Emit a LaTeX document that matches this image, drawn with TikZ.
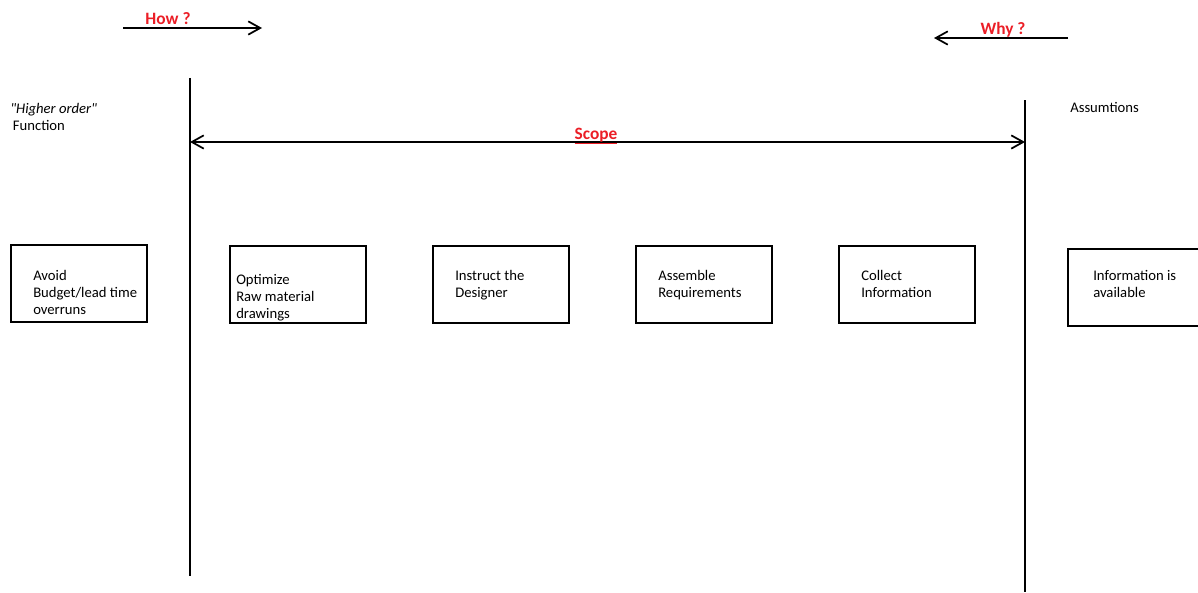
\documentclass[tikz,border=0pt]{standalone}
\usepackage{fontspec}
\setmainfont{Carlito}
\usepackage{xcolor}
\usepackage{tikz}
\usetikzlibrary{positioning,arrows.meta}
\definecolor{askred}{RGB}{235,30,38}

\begin{document}
\begin{tikzpicture}[x=0.75pt, y=-0.75pt,
		box/.style={draw, line width=1.3pt, minimum width=102pt,
					minimum height=57.75pt, inner sep=0pt, anchor=north west},
		txt/.style={align=left, inner sep=0pt, anchor=base west,
					font=\fontsize{11}{12.75}\selectfont},
		ask/.style={inner sep=0pt, anchor=base, text=askred,
					font=\fontsize{13}{15}\selectfont\bfseries},
		arrow/.style={-{Straight Barb[length=9pt,width=10pt]}, line width=1.3pt},
		bar/.style={line width=1.3pt}
	]
		\useasboundingbox (0,0) rectangle (1198,592);

		% scope boundaries
		\coordinate (lt) at (190,78);
		\coordinate (lb) at (190,576);
		\coordinate (rt) at (1025,100);
		\coordinate (rb) at (1025,592);
		\draw[bar] (lt) -- (lb);
		\draw[bar] (rt) -- (rb);

		% how / why directions
		\coordinate (hows) at (123,28);
		\coordinate (howe) at (262,28);
		\coordinate (whys) at (1068,38);
		\coordinate (whye) at (934,38);
		\draw[arrow] (hows) -- (howe);
		\draw[arrow] (whys) -- (whye);
		\node[ask] (how) at (168,25) {How ?};
		\node[ask] (why) at (1003,35) {Why ?};

		% scope span
		\coordinate (sl) at (lt |- 0,142);
		\coordinate (sr) at (rt |- 0,142);
		\draw[arrow, {Straight Barb[length=9pt,width=10pt]}-{Straight Barb[length=9pt,width=10pt]}] (sl) -- (sr);
		\node[ask] (scope) at (596,139) {\underline{Scope}};

		% column headings (base = last line)
		\node[txt] (hof) at (10,130) {\textit{\textquotedbl Higher order\textquotedbl}\\\hspace{2pt}Function};
		\node[txt] (assum) at (1070,113) {Assumtions};

		% function boxes
		\node[box] (avoid) at (10,244) {};
		\node[box] (optim) at (229,245) {};
		\node[box] (instr) at (432,245) {};
		\node[box] (assem) at (635,245) {};
		\node[box] (collect) at (838,245) {};
		\node[box] (avail) at (1067,248) {};

		\node[txt] (avoidtxt) at (33,314) {Avoid\\Budget/lead time\\overruns};
		\node[txt] (optimtxt) at (236,318) {Optimize\\Raw material\\drawings};
		\node[txt] (instrtxt) at (455,297) {Instruct the\\Designer};
		\node[txt] (assemtxt) at (658,297) {Assemble\\Requirements};
		\node[txt] (collecttxt) at (861,297) {Collect\\Information};
		\node[txt] (availtxt) at (1093,297) {Information is\\available};
	\end{tikzpicture}
\end{document}
